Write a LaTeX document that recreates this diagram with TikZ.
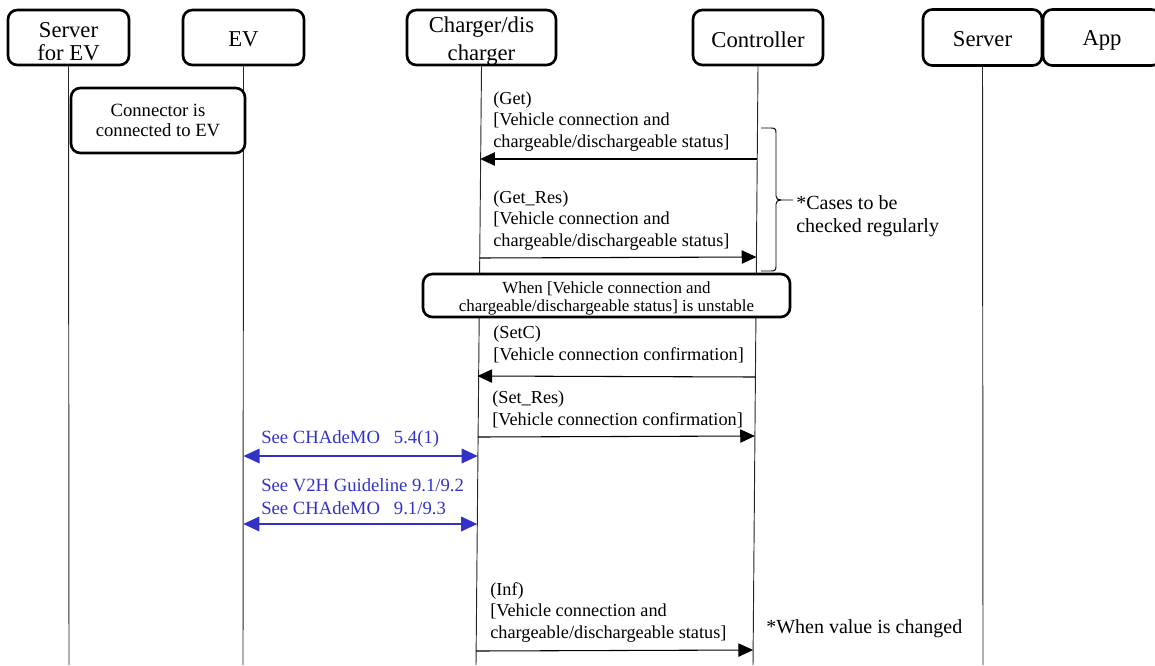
\documentclass[tikz,border=0pt]{standalone}
\usepackage{fontspec}
\setmainfont{Liberation Serif}
\usetikzlibrary{arrows.meta}
\definecolor{refblue}{RGB}{50,50,200}
\pgfdeclarelayer{lines}
\pgfsetlayers{lines,main}
% lower the printed text inside a box without changing the box size
\newcommand{\lowertext}[2]{\raisebox{-#1}[\height][\depth]{#2}}
\begin{document}
\begin{tikzpicture}[x=0.75pt,y=-0.75pt,
  actor/.style={draw, line width=2pt, rounded corners=7pt, fill=white, inner sep=0pt,
    align=center, font=\fontsize{17}{18.75}\selectfont},
  notebox/.style={draw, line width=2pt, rounded corners=7pt, fill=white, inner sep=0pt, align=center},
  lifeline/.style={line width=0.7pt, black!85},
  msg/.style={line width=0.8pt, -{Triangle[length=11pt,width=10pt]}},
  refmsg/.style={line width=0.9pt, refblue,
    {Triangle[length=12pt,width=11pt]}-{Triangle[length=12pt,width=11pt]}},
  lbl/.style={anchor=west, inner sep=0pt, align=left, font=\fontsize{13.7}{16.2}\selectfont},
  reflbl/.style={anchor=west, inner sep=0pt, align=left, text=refblue, font=\fontsize{14}{17.25}\selectfont},
  remark/.style={anchor=west, inner sep=0pt, align=left, font=\fontsize{15}{17.25}\selectfont},
  bracket/.style={line width=0.7pt},
]
\path[clip] (0,0) rectangle (1155,665);
\useasboundingbox (0,0) rectangle (1155,665);

% participants
\node[actor, minimum width=90.75pt, minimum height=41.25pt] (sev) at (68.5,37.5)
  {\lowertext{3pt}{\shortstack{Server\\[2.5pt]for EV}}};
\node[actor, minimum width=90.75pt, minimum height=41.25pt] (ev) at (243.5,37.5)
  {\lowertext{1.2pt}{EV}};
\node[actor, minimum width=111.75pt, minimum height=41.25pt] (chg) at (481.5,37.5)
  {\lowertext{3pt}{\shortstack{Charger/dis\\[2.5pt]charger}}};
\node[actor, minimum width=97.5pt, minimum height=41.25pt] (ctl) at (758,37.5)
  {\lowertext{1.5pt}{Controller}};
\node[actor, minimum width=89.25pt, minimum height=42pt] (srv) at (982.5,37.5)
  {\lowertext{1pt}{Server}};
\node[actor, minimum width=88.5pt, minimum height=42pt] (app) at (1102,37.5)
  {\lowertext{2.5pt}{App}};

% lifeline ends
\coordinate (sevEnd) at (69,665);
\coordinate (evEnd) at (243,665);
\coordinate (chgEnd) at (476,665);
\coordinate (ctlEnd) at (753,665);
\coordinate (srvEnd) at (983,665);

% lifelines, kept behind the boxes
\begin{pgfonlayer}{lines}
\draw[lifeline] (sev.south) -- (sevEnd);
\draw[lifeline] (ev.south) -- (evEnd);
\draw[lifeline] (chg.south) -- (chgEnd);
\draw[lifeline] (ctl.south) -- (ctlEnd);
\draw[lifeline] (srv.south) -- (srvEnd);
\end{pgfonlayer}

% state note on the EV side
\node[notebox, minimum width=130.5pt, minimum height=48.75pt,
  font=\fontsize{14}{15}\selectfont] (conn) at (158,120.5) {Connector is\\connected to EV};

% message end points on the lifelines
\coordinate (getC) at (757.2,159);   \coordinate (getD) at (480.2,159);
\coordinate (resD) at (479.4,258);   \coordinate (resC) at (756.4,257);
\coordinate (setC) at (755.4,377);   \coordinate (setD) at (477.4,376);
\coordinate (srsD) at (477.9,437);   \coordinate (srsC) at (754.9,436);
\coordinate (evA) at (243.5,456);    \coordinate (chA) at (477.7,456);
\coordinate (evB) at (243.3,524);    \coordinate (chB) at (477.2,524);
\coordinate (infD) at (476.1,651);   \coordinate (infC) at (753.1,650);

% Get
\node[lbl] (getL) at (493,121.5) {(Get)\\{}[Vehicle connection and\\chargeable/dischargeable status]};
\draw[msg] (getC) -- (getD);

% Get_Res
\node[lbl] (resL) at (493,220.5) {(Get\_Res)\\{}[Vehicle connection and\\chargeable/dischargeable status]};
\draw[msg] (resD) -- (resC);

% periodic bracket
\draw[bracket] (761,128) -- (771,128) .. controls (775,128) and (776,129) .. (776,133)
  -- (776,196) .. controls (776,199) and (778,200) .. (781,200) -- (793,200);
\draw[bracket] (781,200) .. controls (778,200) and (776,201) .. (776,204)
  -- (776,266) .. controls (776,270) and (775,271) .. (771,271) -- (761,271);
\node[remark] (cases) at (796,216.5) {*Cases to be\\checked regularly};

% unstable-state note
\node[notebox, minimum width=275.25pt, minimum height=32.25pt,
  font=\fontsize{12.7}{14.25}\selectfont] (unst) at (606.5,295.5)
  {\lowertext{2.25pt}{\shortstack{When [Vehicle connection and\\[0.5pt]chargeable/dischargeable\ status]\ is unstable}}};

% SetC
\node[lbl] (setL) at (493,344.5) {(SetC)\\{}[Vehicle connection confirmation]};
\draw[msg] (setC) -- (setD);

% Set_Res
\node[lbl] (srsL) at (492,409.5) {(Set\_Res)\\{}[Vehicle connection confirmation]};
\draw[msg] (srsD) -- (srsC);

% CHAdeMO references
\node[reflbl] (refA) at (261,438.5) {See CHAdeMO\hspace{0.75em}5.4(1)};
\draw[refmsg] (evA) -- (chA);
\node[reflbl] (refB) at (261,497) {See V2H Guideline 9.1/9.2\\See CHAdeMO\hspace{0.75em}9.1/9.3};
\draw[refmsg] (evB) -- (chB);

% Inf
\node[lbl] (infL) at (490,612.5) {(Inf)\\{}[Vehicle connection and\\chargeable/dischargeable status]};
\draw[msg] (infD) -- (infC);
\node[remark] (chg2) at (766,629) {*When value is changed};
\end{tikzpicture}
\end{document}
